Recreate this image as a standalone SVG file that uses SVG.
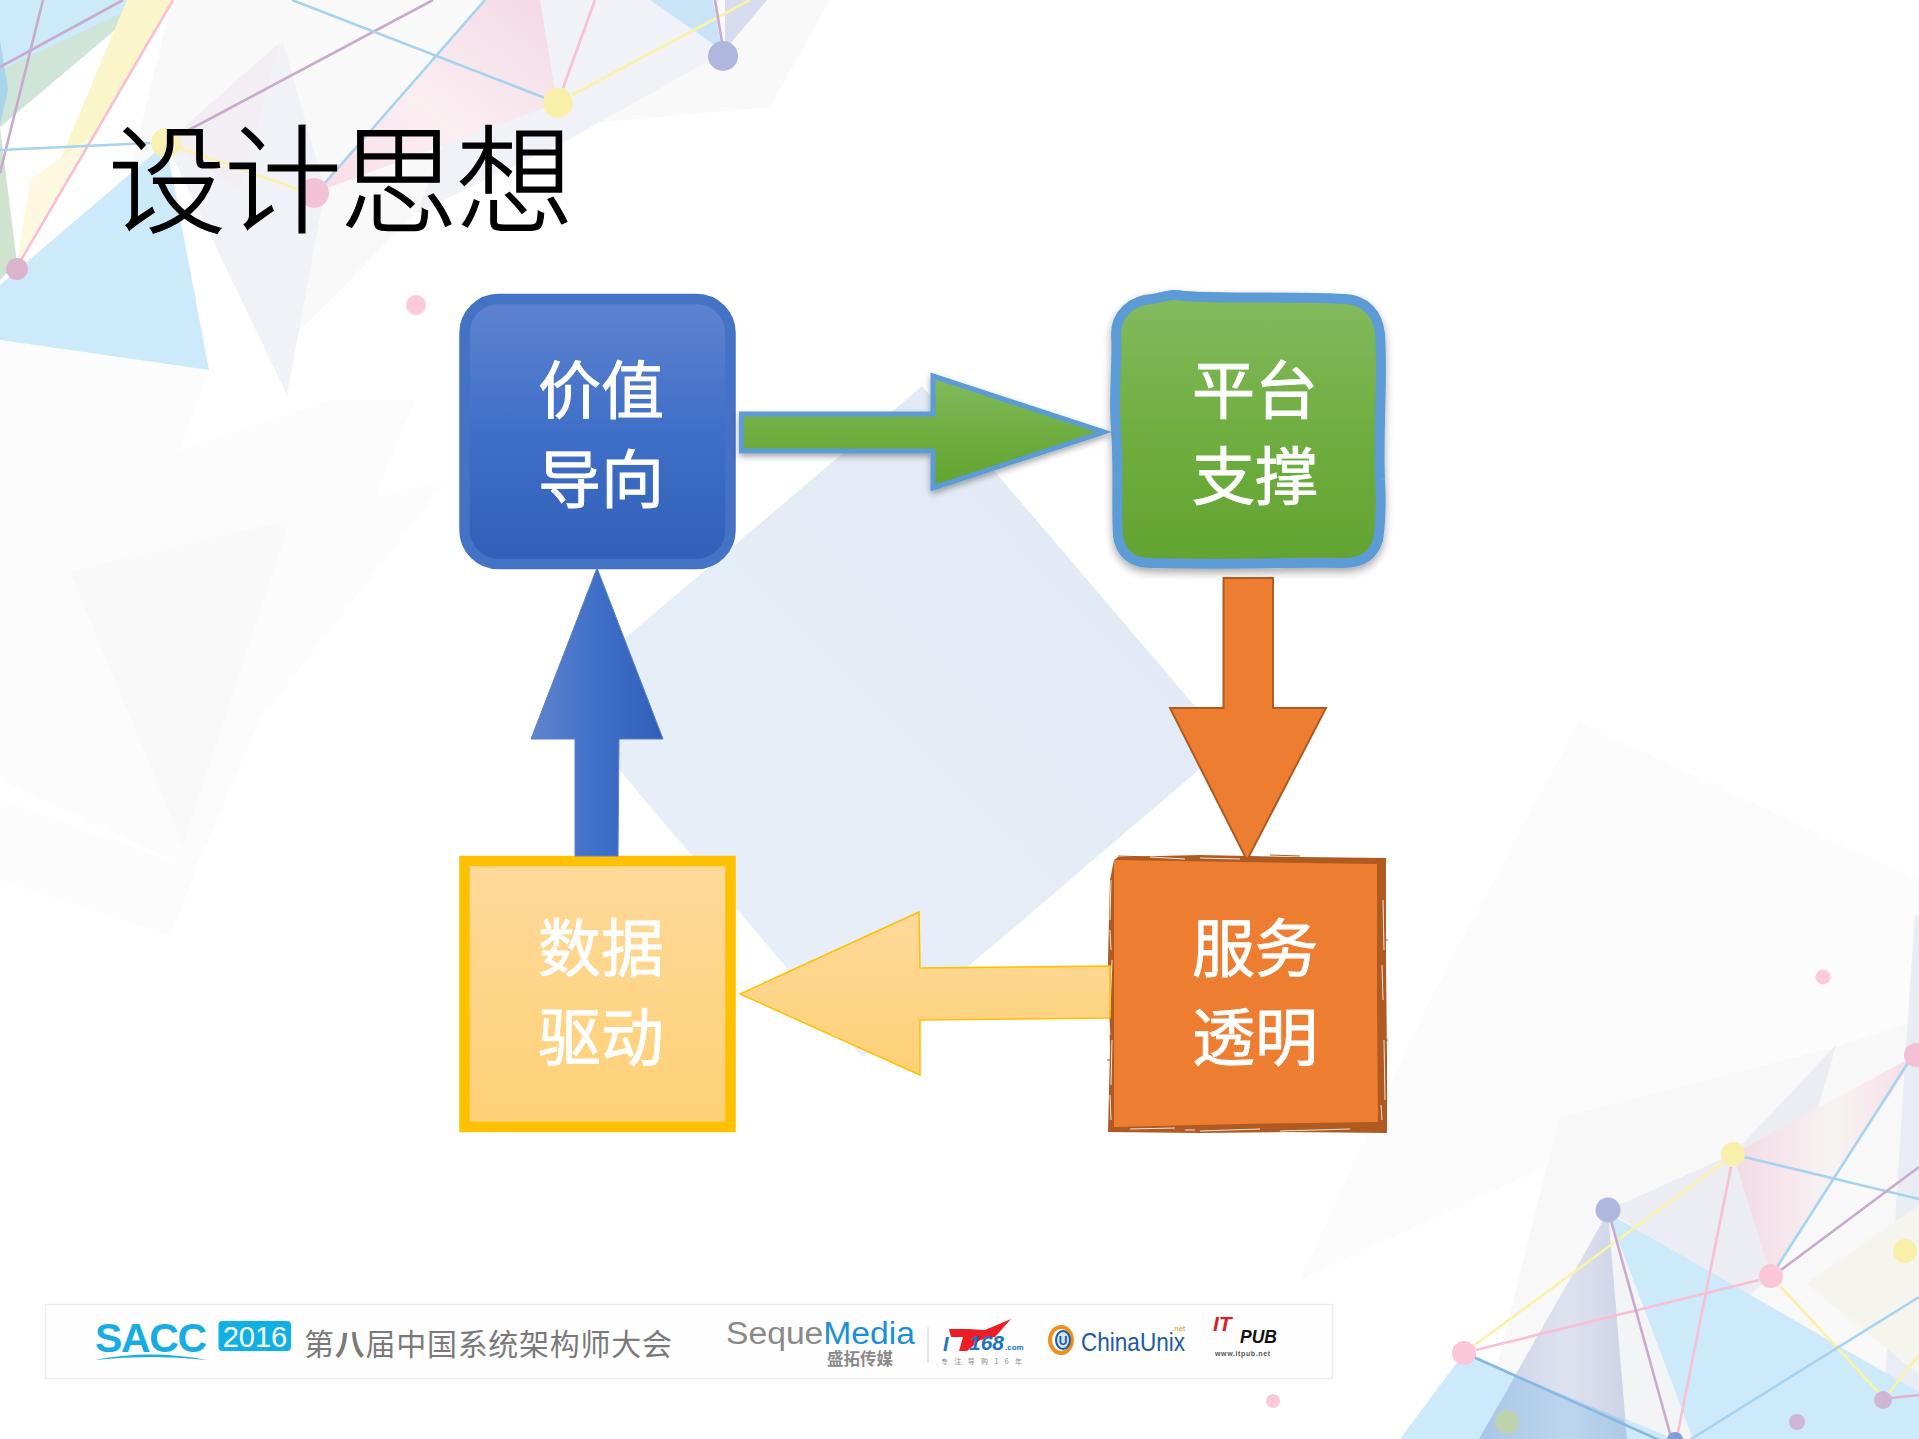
<svg xmlns="http://www.w3.org/2000/svg" width="1919" height="1439" viewBox="0 0 1919 1439">
<style>
.cjk{font-family:"Noto Sans CJK SC","Noto Sans",sans-serif}
.lat{font-family:"Liberation Sans",Arial,sans-serif}
.lbl{font-family:"Noto Sans CJK SC","Noto Sans",sans-serif;font-size:63px;font-weight:400;fill:#fff;stroke:#fff;stroke-width:.9}
.lb{stroke:#a6d3ef;stroke-width:2.6;fill:none}
.lp{stroke:#f9bfd2;stroke-width:2.6;fill:none}
.lu{stroke:#c9aacd;stroke-width:2.6;fill:none}
.ly{stroke:#f9f2a8;stroke-width:2.6;fill:none}
.c{fill:#cdeafa}
.g1{fill:#f1f2f7}
.g2{fill:#f9f9f9}
.g3{fill:#fcfcfc}
.sc{stroke:#fff;stroke-width:1;fill:none;opacity:.85}
.sd{stroke:#ae5a21;stroke-width:1.2;fill:none}
</style>
<defs>
<linearGradient id="gBlue" x1="0" y1="0" x2="0" y2="1"><stop offset="0" stop-color="#5f84cf"/><stop offset=".5" stop-color="#3f6fc8"/><stop offset="1" stop-color="#315fb7"/></linearGradient>
<linearGradient id="gBlueH" x1="0" y1="0" x2="1" y2="0"><stop offset="0" stop-color="#5f84cf"/><stop offset=".5" stop-color="#3f6fc8"/><stop offset="1" stop-color="#315fb7"/></linearGradient>
<linearGradient id="gGreen" x1="0" y1="0" x2="0" y2="1"><stop offset="0" stop-color="#83ba5f"/><stop offset=".5" stop-color="#70ae41"/><stop offset="1" stop-color="#62a32f"/></linearGradient>
<linearGradient id="gYel" x1="0" y1="0" x2="0" y2="1"><stop offset="0" stop-color="#fed99a"/><stop offset="1" stop-color="#fed076"/></linearGradient>
<linearGradient id="gDia" x1="1" y1="0" x2="0" y2="1"><stop offset="0" stop-color="#e0e9f4"/><stop offset="1" stop-color="#e9f0f9"/></linearGradient>
<linearGradient id="gPink" x1="0" y1="1" x2="1" y2="0"><stop offset="0" stop-color="#f8dbe6"/><stop offset=".45" stop-color="#fbeff2"/><stop offset="1" stop-color="#f3d8e5"/></linearGradient>
<linearGradient id="gPink2" x1="0" y1="0" x2="1" y2="0"><stop offset="0" stop-color="#f3d9e5"/><stop offset=".55" stop-color="#f7f3f2"/><stop offset="1" stop-color="#f7dde7"/></linearGradient>
<linearGradient id="gInd" x1="0" y1="0" x2="1" y2="0"><stop offset="0" stop-color="#c9cee6"/><stop offset=".6" stop-color="#dfe2ee"/><stop offset="1" stop-color="#cdd3e7"/></linearGradient>
<linearGradient id="gInd2" x1="0" y1="0" x2="1" y2="0"><stop offset="0" stop-color="#a8c6e8"/><stop offset=".6" stop-color="#bdd5ec"/><stop offset="1" stop-color="#adc9e7"/></linearGradient>
<filter id="sh" x="-10%" y="-10%" width="120%" height="125%"><feDropShadow dx="0" dy="4" stdDeviation="4" flood-color="#000" flood-opacity=".35"/></filter>
<filter id="sh2" x="-10%" y="-10%" width="120%" height="125%"><feDropShadow dx="0" dy="3" stdDeviation="3" flood-color="#000" flood-opacity=".35"/></filter>
</defs>
<rect width="1919" height="1439" fill="#fff"/>
<g id="background">
<!-- pale ghosts -->
<polygon class="g3" points="1300,1280 1430,1000 1579,722 1919,880 1919,1439 1480,1439 1560,1160"/>
<polygon points="1559,1118 1836,1047 1919,1020 1919,1439 1479,1439" fill="#f8f8f8"/>
<polygon class="g3" points="0,340 0,780 195,870 260,720 447,480 375,497 415,400 333,400 128,467"/>
<polygon class="g2" points="70,572 290,520 183,845"/>
<polygon class="g3" points="0,800 197,870 170,935 0,880"/>
<polygon class="g3" points="0,342 209,370 170,475 0,470"/>
<polygon class="g2" points="172,0 370,0 340,120 130,170"/>
<polygon class="g2" points="260,140 287,0 830,0 770,107 570,125 416,213 300,330"/>
<polygon class="g1" points="540,0 650,0 723,45 737,45 568,140 417,213 470,70"/>
<polygon class="g1" points="166,143 287,395 325,190 283,42"/>
<polygon points="280,42 166,143 240,190" fill="#f3eef4"/>
<!-- top-left triangles -->
<polygon class="c" points="0,0 150,0 0,127"/>
<polygon points="0,70 150,0 0,127" fill="#cfe5d8"/>
<polygon points="0,127 17,263 0,280" fill="#cfe3cf"/>
<polygon points="17,263 127,0 172,0" fill="#fbf6c9"/>
<polygon points="17,263 30,180 100,130" fill="#fdf9e0"/>
<polygon points="0,40 8,90 0,125" fill="#a8d5ec"/>
<polygon class="c" points="166,143 209,370 0,340 0,285"/>
<polygon points="314,193 557,103 540,0 485,0" fill="url(#gPink)"/>
<polygon points="650,0 713,0 722,50" fill="#c8e4f6"/>
<polygon points="725,0 767,0 725,50" fill="#d7dcee"/>
<!-- top-left lines -->
<path class="lp" d="M17,267L173,0"/>
<path class="lu" d="M0,67L123,0"/>
<path class="lu" d="M43,0L0,173"/>
<path class="lb" d="M0,150L150,143"/>
<path class="lu" d="M185,132L433,0"/>
<path class="lb" d="M292,0L545,98"/>
<path class="lb" d="M485,0L325,183"/>
<path class="ly" d="M177,147L300,190"/>
<path class="lp" d="M595,0L563,88"/>
<path class="ly" d="M572,95L750,0"/>
<path class="lu" d="M715,0L722,42"/>
<!-- top-left dots -->
<circle cx="166" cy="143" r="15" fill="#f8f0a8" opacity=".85"/>
<circle cx="314" cy="193" r="15" fill="#f2c3d6"/>
<circle cx="17" cy="269" r="11" fill="#dcb3cd"/>
<circle cx="416" cy="305" r="10" fill="#fbc9da"/>
<circle cx="558" cy="103" r="15" fill="#f8f0a8"/>
<circle cx="723" cy="56" r="15" fill="#aeb8dc"/>
<!-- bottom-right triangles -->
<polygon points="1915,915 1919,915 1919,1390 1884,1397 1909,1000" fill="#e9ecf3"/>
<polygon points="1836,1045 1733,1154 1608,1210 1745,1300 1771,1276" fill="#ecedf3"/>
<polygon points="1806,1283 1919,1205 1919,1375" fill="#f5f5ee"/>
<polygon points="1608,1213 1693,1439 1627,1439" fill="#f3f4f5"/>
<polygon class="c" points="1608,1213 1919,1392 1919,1439 1693,1439"/>
<polygon class="c" points="1464,1353 1400,1439 1675,1439"/>
<polygon points="1608,1212 1479,1439 1627,1439" fill="url(#gInd)"/>
<polygon points="1516,1375 1624,1420 1627,1439 1479,1439" fill="url(#gInd2)"/>
<polygon points="1733,1154 1771,1276 1916,1055" fill="url(#gPink2)"/>
<!-- bottom-right lines -->
<path class="ly" d="M1472,1347L1724,1162"/>
<path class="lp" d="M1476,1350L1759,1280"/>
<path class="lb" d="M1469,1355L1659,1440" style="stroke:#86b9e2"/>
<path class="lu" d="M1610,1217L1671,1437"/>
<path class="lp" d="M1731,1167L1677,1437"/>
<path class="lb" d="M1744,1157L1919,1199"/>
<path class="lb" d="M1777,1267L1911,1058"/>
<path class="lu" d="M1781,1270L1919,1167"/>
<path class="ly" d="M1781,1287L1881,1395"/>
<path class="lb" d="M1691,1439L1919,1297"/>
<path class="lp" d="M1891,1398L1919,1395" style="stroke:#dcb3cd"/>
<path class="ly" d="M1889,1393L1919,1355"/>
<!-- bottom-right dots -->
<circle cx="1608" cy="1210" r="12.5" fill="#aeb8dc"/>
<circle cx="1733" cy="1154" r="12" fill="#f8f0a8"/>
<circle cx="1771" cy="1276" r="12" fill="#fcc6d9"/>
<circle cx="1464" cy="1353" r="12" fill="#fcc6d9"/>
<circle cx="1916" cy="1055" r="12" fill="#f4bfd5"/>
<circle cx="1905" cy="1251" r="12" fill="#f8f0a8"/>
<circle cx="1883" cy="1400" r="9" fill="#cfb5d8"/>
<circle cx="1797" cy="1422" r="8" fill="#cfb5d8"/>
<circle cx="1507" cy="1422" r="12" fill="#bcd3ad"/>
<circle cx="1675" cy="1440" r="8" fill="#7f9fd6"/>
<circle cx="1823" cy="977" r="7.5" fill="#fcc9db"/>
<circle cx="1273" cy="1401" r="7" fill="#fcc9db"/>
<!-- centre diamond -->
<polygon points="922,386 1228,745 862,1057 557,696" fill="url(#gDia)"/>
</g>
<text id="title" class="cjk" x="108" y="224" font-size="118" font-weight="300" fill="#000" stroke="#000" stroke-width="1.2" textLength="466">设计思想</text>
<g id="node-value">
<rect x="464.5" y="299" width="266" height="265" rx="34" fill="url(#gBlue)" stroke="#4472c4" stroke-width="10.5"/>
<text class="lbl" x="538" y="413">价值</text>
<text class="lbl" x="538" y="502">导向</text>
</g>
<g id="node-platform">
<path d="M1152,299C1165,297 1172,293 1184,296C1230,299 1290,296 1345,299C1366,300 1378,314 1380,334C1383,380 1378,430 1380,480C1382,510 1379,535 1378,540C1373,556 1362,563 1344,563C1290,562 1230,565 1150,563C1132,563 1120,553 1118,536C1116,500 1119,470 1116,430C1113,390 1118,360 1116,334C1116,314 1132,300 1152,299Z" fill="url(#gGreen)" stroke="#5b9bd5" stroke-width="10" filter="url(#sh)"/>
<text class="lbl" x="1192" y="413">平台</text>
<text class="lbl" x="1192" y="499">支撑</text>
</g>
<g id="node-data">
<rect x="464.5" y="861" width="266" height="266" fill="url(#gYel)" stroke="#ffc000" stroke-width="10.5"/>
<text class="lbl" x="538" y="971">数据</text>
<text class="lbl" x="538" y="1060">驱动</text>
</g>
<g id="node-service">
<polygon points="1118,857 1200,855 1300,857 1386,858 1386,960 1387,1060 1387,1133 1290,1132 1200,1133 1108,1132 1110,1050 1108,960 1110,880 1114,860" fill="#ae5a21"/>
<polygon points="1114,860 1240,862 1377,864 1377,1000 1378,1122 1240,1124 1114,1127 1114,1000" fill="#ed7d31"/>
<path class="sc" d="M1111,880L1110,920M1110,930L1111,950M1112,960L1110,1010M1109,1020L1110,1035M1112,1040L1111,1085M1110,1095L1111,1120M1383,900L1384,950M1382,965L1383,1000M1384,1040L1385,1100M1381,1105L1382,1120M1130,1129L1175,1128M1185,1130L1195,1130M1200,1131L1260,1129M1280,1131L1350,1129M1150,857L1185,859M1200,858L1240,859"/>
<path class="sd" d="M1118,856L1150,857M1270,855L1300,856M1106,1000L1110,1000M1107,1060L1110,1060M1388,940L1386,940M1388,1040L1386,1040"/>
<text class="lbl" x="1192" y="971">服务</text>
<text class="lbl" x="1192" y="1060">透明</text>
</g>
<g id="connectors">
<polygon points="741.5,414 933,414 933,376 1104,432 933,488 933,451 741.5,451" fill="url(#gGreen)" stroke="#5b9bd5" stroke-width="5" filter="url(#sh2)"/>
<polygon points="1223.5,578 1273,578 1273,708 1326,708 1247,860 1170,708 1223.5,708" fill="#ed7d31" stroke="#ae5a21" stroke-width="2"/>
<polygon points="1110,966 920,968 919,912 740,994 920,1075 920,1020 1110,1018" fill="url(#gYel)" stroke="#ffc000" stroke-width="1.5"/>
<polygon points="597,568 663,739 619,739 618,856 575,856 575,739 531,739" fill="url(#gBlueH)" stroke="#5b80cc" stroke-width="1"/>
</g>
<g id="footer">
<rect x="45.5" y="1304.5" width="1287" height="74" fill="#fefefe" stroke="#ececec" stroke-width="1.5"/>
<text class="lat" x="95" y="1352" font-size="41" font-weight="700" fill="#17ade2" textLength="112">SACC</text>
<path d="M95,1360Q150,1349 207,1360Q150,1354 95,1360Z" fill="#17ade2"/>
<rect x="218.5" y="1321" width="72.5" height="30" rx="4" fill="#0fb0e3"/>
<text class="lat" x="255" y="1347" font-size="29" fill="#fff" text-anchor="middle">2016</text>
<text class="cjk" x="304" y="1355" font-size="30" fill="#7a7a7a" textLength="368">第<tspan font-weight="700">八</tspan>届中国系统架构师大会</text>
<text class="lat" x="726" y="1344" font-size="31" textLength="189" lengthAdjust="spacingAndGlyphs"><tspan fill="#8a8a8a">Seque</tspan><tspan fill="#1b90d8">Media</tspan></text>
<text class="cjk" x="827" y="1365" font-size="16.5" font-weight="700" fill="#8a8a8a">盛拓传媒</text>
<path d="M928,1327V1363" stroke="#d0d0d0" stroke-width="1" fill="none"/>
<polygon points="949,1329 968,1329 985,1330 1011,1319 995,1337 980,1340 967,1351 959,1351 963,1337 951,1337" fill="#ee1c25"/>
<text class="lat" x="943" y="1351" font-size="20" font-weight="700" font-style="italic" fill="#1b72c0">I</text>
<text class="lat" x="969" y="1350" font-size="20" font-weight="700" font-style="italic" fill="#1b72c0" textLength="35" lengthAdjust="spacingAndGlyphs">168</text>
<text class="lat" x="1005" y="1350" font-size="8" font-weight="700" fill="#1b72c0">.com</text>
<text class="cjk" x="941" y="1364" font-size="7" fill="#8a8a8a" textLength="81">专注导购16年</text>
<ellipse cx="1061" cy="1340" rx="11" ry="13" fill="#fff" stroke="#ee8f1e" stroke-width="4"/>
<ellipse cx="1063" cy="1340" rx="7" ry="9" fill="#cfe3f3" stroke="#1e5aa0" stroke-width="2"/>
<text class="lat" x="1063" y="1345" font-size="12" font-weight="700" fill="#1e5aa0" text-anchor="middle">U</text>
<text class="lat" x="1081" y="1351" font-size="25" fill="#1e5aa0" textLength="104" lengthAdjust="spacingAndGlyphs">ChinaUnix</text>
<text class="lat" x="1172" y="1331" font-size="8" fill="#ee8f1e">.net</text>
<text class="lat" x="1213" y="1331" font-size="21" font-weight="700" font-style="italic" fill="#d8202a">IT</text>
<text class="lat" x="1240" y="1343" font-size="19" font-weight="700" font-style="italic" fill="#111" textLength="37" lengthAdjust="spacingAndGlyphs">PUB</text>
<text class="lat" x="1215" y="1356" font-size="7" font-weight="700" fill="#555" textLength="55">www.itpub.net</text>
</g>
</svg>
